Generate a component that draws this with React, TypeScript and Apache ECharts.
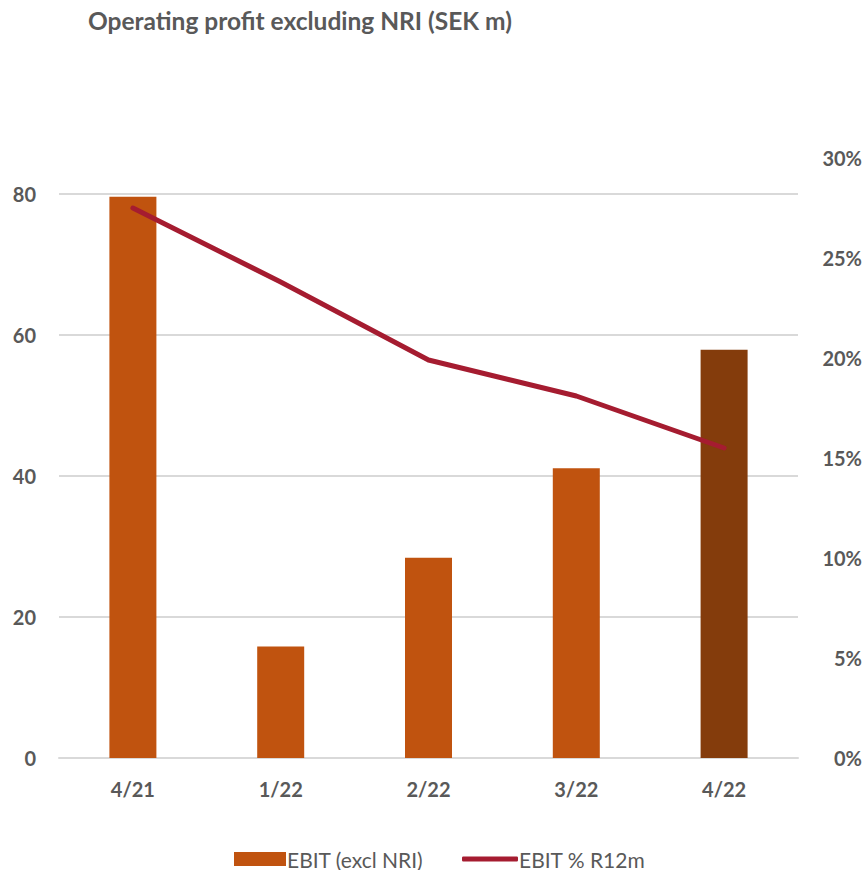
import React, { useEffect, useRef } from "react";
import * as echarts from "echarts";

const categories = ["4/21", "1/22", "2/22", "3/22", "4/22"];
const ebitValues = [79.6, 15.8, 28.4, 41.1, 57.9];
const ebitPctValues = [0.275, 0.238, 0.199, 0.181, 0.155];
const leftTicks = [0, 20, 40, 60, 80];
const rightTicks = [0, 0.05, 0.1, 0.15, 0.2, 0.25, 0.3];

const FONT = "Lato";
const TEXT = "#595959";

export default function App() {
  const ref = useRef<HTMLDivElement>(null);
  useEffect(() => {
    if (!ref.current) return;
    const chart = echarts.init(ref.current, undefined, { renderer: "svg" });
    const barColors = ebitValues.map((_, i) => (i === ebitValues.length - 1 ? "#843C0C" : "#C0530F"));
    chart.setOption({
      animation: false,
      backgroundColor: "#fff",
      title: {
        text: "Operating profit excluding NRI (SEK m)",
        left: 83,
        top: 3,
        textStyle: { fontFamily: FONT, fontWeight: "bold", fontSize: 24.5, color: TEXT },
      },
      legend: [
        {
          data: [{ name: "EBIT (excl NRI)", icon: "rect" }],
          left: 229,
          top: 843,
          itemWidth: 52,
          itemHeight: 14,
          itemGap: 5,
          textStyle: { fontFamily: FONT, fontSize: 21, lineHeight: 22, color: TEXT, padding: [0, 0, 0, -4] },
        },
        {
          data: [{ name: "EBIT % R12m", icon: "roundRect" }],
          left: 457,
          top: 843,
          itemWidth: 56,
          itemHeight: 5,
          textStyle: { fontFamily: FONT, fontSize: 21, lineHeight: 22, color: TEXT, padding: [0, 0, 0, -4] },
        },
      ],
      grid: { left: 59, right: 68, top: 158, bottom: 112, containLabel: false },
      xAxis: {
        type: "category",
        data: categories,
        axisTick: { show: false },
        axisLine: { show: true, lineStyle: { color: "#D9D9D9", width: 2 } },
        axisLabel: { fontFamily: FONT, fontWeight: "bold", fontSize: 20, color: TEXT, margin: 21 },
      },
      yAxis: [
        {
          type: "value",
          min: leftTicks[0],
          max: 600 / 7.05,
          interval: leftTicks[1] - leftTicks[0],
          axisLine: { show: false },
          axisTick: { show: false },
          splitLine: { show: true, showMaxLine: false, lineStyle: { color: "#D9D9D9", width: 2 } },
          axisLabel: {
            showMaxLabel: false,
            fontFamily: FONT,
            fontWeight: "bold",
            fontSize: 20,
            color: TEXT,
            margin: 23,
          },
        },
        {
          type: "value",
          min: rightTicks[0],
          max: rightTicks[rightTicks.length - 1],
          interval: 0.05,
          axisLine: { show: false },
          axisTick: { show: false },
          splitLine: { show: false },
          axisLabel: {
            fontFamily: FONT,
            fontWeight: "bold",
            fontSize: 20,
            color: TEXT,
            align: "right",
            margin: 64,
            formatter: (v: number) => `${Math.round(v * 100)}%`,
          },
        },
      ],
      series: [
        {
          name: "EBIT (excl NRI)",
          type: "bar",
          yAxisIndex: 0,
          barWidth: 47,
          itemStyle: { color: "#C0530F" },
          data: ebitValues.map((v, i) => ({ value: v, itemStyle: { color: barColors[i] } })),
        },
        {
          name: "EBIT % R12m",
          type: "line",
          yAxisIndex: 1,
          data: ebitPctValues,
          symbol: "none",
          itemStyle: { color: "#A51C30" },
          lineStyle: { color: "#A51C30", width: 5, cap: "round", join: "round" },
        },
      ],
    });
    return () => chart.dispose();
  }, []);
  return (
    <div
      ref={ref}
      style={{ position: "fixed", left: 0, top: 0, width: 866, height: 870 }}
    />
  );
}
